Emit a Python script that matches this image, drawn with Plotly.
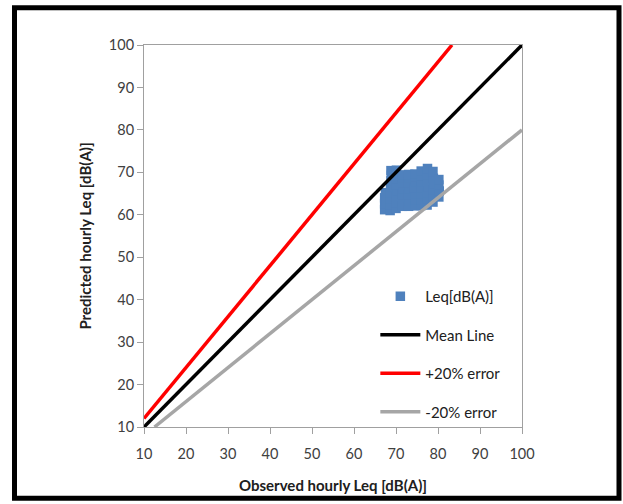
import plotly.graph_objects as go

# Observed vs predicted hourly Leq [dB(A)]
observed = [67.3, 67.3, 67.3, 67.5, 67.6,
            68.6, 68.6, 68.6, 68.6, 68.7, 68.8, 68.9, 68.8,
            70.0, 70.1, 70.0, 70.2, 70.0, 70.1, 70.0, 70.1,
            71.5, 71.6, 71.5, 71.7, 71.6, 71.5, 71.6,
            73.0, 73.1, 73.0, 73.2, 73.0, 73.1, 73.0,
            74.5, 74.6, 74.5, 74.4, 74.6, 74.5, 74.5,
            76.0, 76.1, 76.0, 75.9, 76.1, 76.0, 76.0,
            77.4, 77.5, 77.4, 77.6, 77.5, 77.4, 77.5,
            78.8, 78.9, 78.8, 79.0, 78.9, 78.8,
            80.2, 80.3, 80.2, 80.2]
predicted = [61.2, 62.6, 64.0, 65.2, 63.4,
             61.0, 62.4, 63.8, 65.2, 66.6, 68.0, 69.3, 70.4,
             61.5, 62.8, 64.2, 65.6, 67.0, 68.4, 69.8, 70.5,
             62.0, 63.4, 64.8, 66.2, 67.6, 68.8, 69.4,
             62.0, 63.4, 64.8, 66.2, 67.6, 68.8, 69.5,
             62.1, 63.5, 64.9, 66.3, 67.7, 68.9, 69.6,
             62.2, 63.6, 65.0, 66.4, 67.8, 69.2, 70.3,
             62.3, 63.7, 65.1, 66.5, 67.9, 69.4, 70.9,
             63.0, 64.4, 65.8, 67.2, 68.6, 70.2,
             64.2, 65.6, 67.0, 68.3]

mean_x = [10, 100]
mean_y = [10, 100]
plus_x = [10, 83.33]
plus_y = [12, 100]
minus_x = [12.5, 100]
minus_y = [10, 80]

tick_vals = [10, 20, 30, 40, 50, 60, 70, 80, 90, 100]

FONT = "Lato, 'Open Sans', sans-serif"

fig = go.Figure()
fig.add_trace(go.Scatter(x=observed, y=predicted, mode="markers", name="Leq[dB(A)]",
                         legendgroup="a",
                         marker=dict(symbol="square", size=9.5, color="#4F81BD",
                                     line=dict(width=0))))
fig.add_trace(go.Scatter(x=mean_x, y=mean_y, mode="lines", name="Mean Line",
                         legendgroup="b", line=dict(color="#000000", width=3.5)))
fig.add_trace(go.Scatter(x=plus_x, y=plus_y, mode="lines", name="+20% error",
                         legendgroup="c", line=dict(color="#FF0000", width=3.5)))
fig.add_trace(go.Scatter(x=minus_x, y=minus_y, mode="lines", name="-20% error",
                         legendgroup="d", line=dict(color="#A6A6A6", width=3.5)))

axis_common = dict(range=[10, 100], tickvals=tick_vals, showgrid=False, zeroline=False,
                   showline=True, linecolor="#A0A0A0", linewidth=1, mirror=True,
                   ticks="outside", ticklen=6, tickcolor="#A0A0A0",
                   tickfont=dict(family=FONT, size=14.5, color="#404040"))

fig.update_layout(
    width=623, height=504,
    margin=dict(l=144, r=101, t=45, b=73),
    paper_bgcolor="white", plot_bgcolor="white",
    font=dict(family=FONT, color="#000000"),
    xaxis=dict(**axis_common, ticklabelstandoff=8,
               title=dict(text="<b>Observed hourly Leq [dB(A)]</b>",
                          font=dict(family=FONT, size=15, color="#202020"), standoff=19)),
    yaxis=dict(**axis_common,
               title=dict(text="<b>Predicted hourly Leq [dB(A)]</b>",
                          font=dict(family=FONT, size=15, color="#202020"), standoff=13)),
    legend=dict(x=0.612, y=0.385, xanchor="left", yanchor="top",
                bgcolor="rgba(0,0,0,0)", traceorder="grouped", tracegroupgap=16,
                font=dict(family=FONT, size=15, color="#202020"), itemwidth=40),
    showlegend=True,
    shapes=[dict(type="rect", xref="paper", yref="paper",
                 x0=-0.3426, x1=1.2566, y0=-0.1865, y1=1.0972,
                 line=dict(color="black", width=5), fillcolor="rgba(0,0,0,0)",
                 layer="below")],
)

fig.write_html("out.html", config={"displayModeBar": False},
               post_script="document.body.style.margin='0';")
